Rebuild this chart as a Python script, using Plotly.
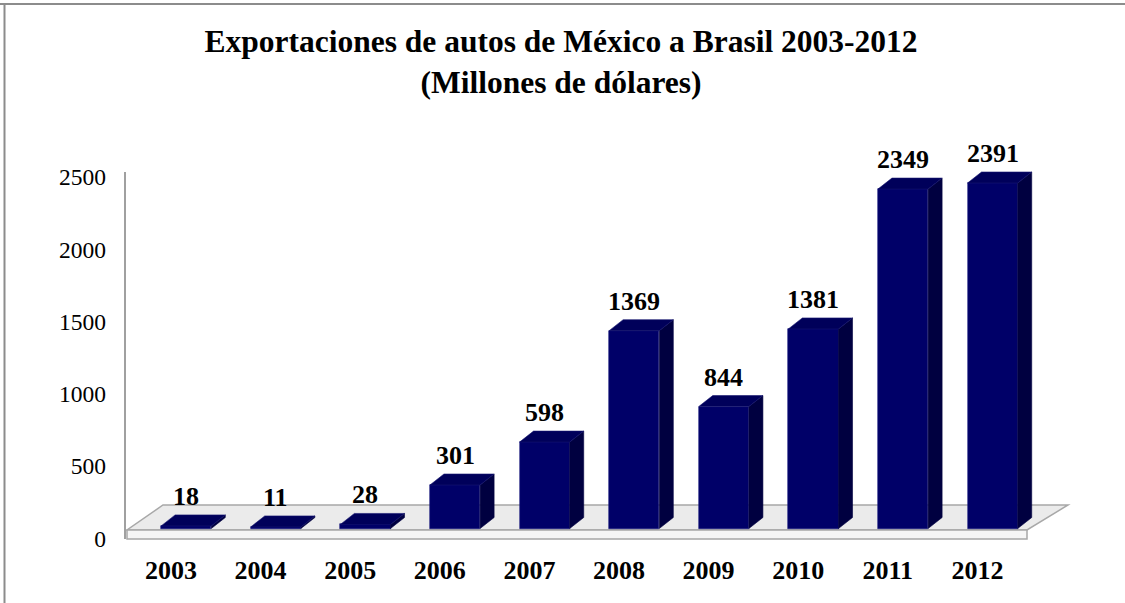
import plotly.graph_objects as go

# ---- data ----
years = ["2003", "2004", "2005", "2006", "2007", "2008", "2009", "2010", "2011", "2012"]
values = [18, 11, 28, 301, 598, 1369, 844, 1381, 2349, 2391]
y_ticks = [0, 500, 1000, 1500, 2000, 2500]
title_text = "Exportaciones de autos de México a Brasil 2003-2012<br>(Millones de dólares)"

# ---- layout constants ----
W, H = 1125, 603
ML, MR, MT, MB = 125, 50, 160, 53
PX_X = 89.6      # pixels per category
PX_Y = 0.1445    # pixels per unit
X0_PIX = 171     # pixel of category 0
Y0_PIX = 528.5   # pixel of value 0

plot_w = W - ML - MR
plot_h = H - MT - MB
x_lo = (ML - X0_PIX) / PX_X
x_hi = x_lo + plot_w / PX_X
y_lo = -(MT + plot_h - Y0_PIX) / PX_Y
y_hi = (Y0_PIX - MT) / PX_Y

def px2x(p):
    return (p - X0_PIX) / PX_X

def py2y(p):
    return (Y0_PIX - p) / PX_Y

BAR_W = 0.56
SHIFT = 0.17
DDX = 14 / PX_X
DDY = 11 / PX_Y

FRONT = "#000068"
SIDE = "#000040"
TOP = "#00005a"

xs = list(range(len(years)))
centers = [i + SHIFT for i in xs]

fig = go.Figure()

# front faces
fig.add_trace(go.Bar(
    x=xs, y=values, width=BAR_W, offset=SHIFT - BAR_W / 2,
    marker=dict(color=FRONT, line=dict(width=0.6, color="#1a1a80")),
    hoverinfo="x+y", showlegend=False,
))

# side and top faces
side_x, side_y, top_x, top_y = [], [], [], []
for c, v in zip(centers, values):
    xl, xr = c - BAR_W / 2, c + BAR_W / 2
    side_x += [xr, xr + DDX, xr + DDX, xr, xr, None]
    side_y += [0, DDY, v + DDY, v, 0, None]
    top_x += [xl, xr, xr + DDX, xl + DDX, xl, None]
    top_y += [v, v, v + DDY, v + DDY, v, None]

fig.add_trace(go.Scatter(x=side_x, y=side_y, mode="lines", fill="toself",
                         fillcolor=SIDE, line=dict(width=0.6, color=SIDE),
                         hoverinfo="skip", showlegend=False))
fig.add_trace(go.Scatter(x=top_x, y=top_y, mode="lines", fill="toself",
                         fillcolor=TOP, line=dict(width=0.6, color="#14146e"),
                         hoverinfo="skip", showlegend=False))

# floor (below traces)
bl = (px2x(163), py2y(505))
br = (px2x(1068), py2y(505))
fr = (px2x(1027), py2y(530))
fl = (px2x(127), py2y(530))
frb = (px2x(1027), py2y(539))
flb = (px2x(127), py2y(539))
def path(pts):
    return "M " + " L ".join(f"{a},{b}" for a, b in pts) + " Z"

fig.add_shape(type="path", path=path([bl, br, fr, fl]), xref="x", yref="y",
              fillcolor="#ebebeb", line=dict(color="#a8a8a8", width=1.5), layer="below")
fig.add_shape(type="path", path=path([fl, fr, frb, flb]), xref="x", yref="y",
              fillcolor="#f6f6f6", line=dict(color="#a8a8a8", width=1.5), layer="below")

# vertical axis line
fig.add_shape(type="line", xref="paper", yref="y", x0=0, x1=0,
              y0=py2y(539), y1=py2y(172), line=dict(color="#a0a0a0", width=2))

# frame lines (top and left)
fig.add_shape(type="line", xref="paper", yref="paper",
              x0=(0 - ML) / plot_w, x1=(W - ML) / plot_w,
              y0=(MT + plot_h - 4) / plot_h, y1=(MT + plot_h - 4) / plot_h,
              line=dict(color="#8c8c8c", width=2))
fig.add_shape(type="line", xref="paper", yref="paper",
              x0=(4.5 - ML) / plot_w, x1=(4.5 - ML) / plot_w,
              y0=(MT + plot_h - H) / plot_h, y1=(MT + plot_h - 4) / plot_h,
              line=dict(color="#8c8c8c", width=2))

# data labels
for c, v in zip(centers, values):
    fig.add_annotation(x=c, y=v, text=str(v), showarrow=False, yanchor="bottom",
                       yshift=DDY * PX_Y + 2,
                       font=dict(family="Liberation Serif", size=26, color="black", weight="bold"))

fig.update_layout(
    width=W, height=H,
    margin=dict(l=ML, r=MR, t=MT, b=MB),
    paper_bgcolor="white", plot_bgcolor="white",
    title=dict(text=title_text, xref="container", x=561 / W, xanchor="center",
               yref="container", y=1 - 52 / H, yanchor="middle",
               font=dict(family="Liberation Serif", size=31.5, color="black", weight="bold")),
    xaxis=dict(range=[x_lo, x_hi], tickvals=xs, ticktext=years, showgrid=False,
               zeroline=False, showline=False, ticks="", ticklabelstandoff=2,
               tickfont=dict(family="Liberation Serif", size=26, color="black", weight="bold")),
    yaxis=dict(range=[y_lo, y_hi], tickvals=y_ticks, showgrid=False, zeroline=False,
               showline=False, ticks="", ticklabelstandoff=18, ticklabelshift=10,
               tickfont=dict(family="Liberation Serif", size=23.5, color="black")),
    bargap=0,
)

fig.write_html("out.html", config={"displayModeBar": False},
               post_script="document.body.style.margin='0';document.body.style.overflow='hidden';")
